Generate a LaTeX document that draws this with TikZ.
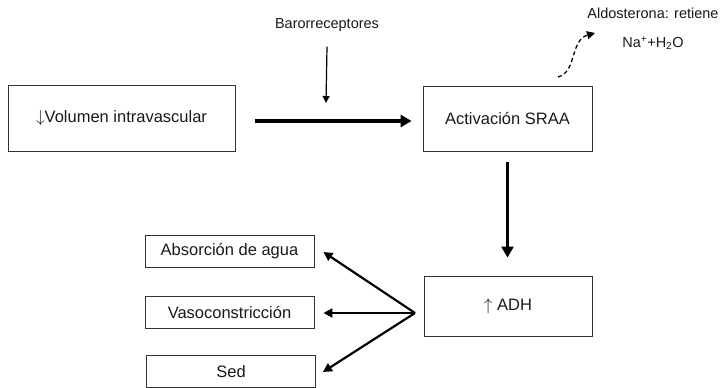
\documentclass[tikz,border=0pt]{standalone}
\usepackage{fontspec}
\setmainfont{Liberation Sans}
\usetikzlibrary{arrows.meta}

\begin{document}
\begin{tikzpicture}[x=1pt,y=1pt,
    box/.style={draw=black!80, line width=0.9pt, inner sep=0pt,
        font=\fontsize{16.5}{19}\selectfont, text=black!90},
    smallbox/.style={box, minimum width=169pt, minimum height=32pt},
    label/.style={font=\fontsize{14.5}{17}\selectfont, text=black!90, inner sep=0pt},
    thickarrow/.style={line width=3.6pt, -{Triangle[length=11pt,width=12pt]}},
    fanarrow/.style={line width=2.2pt, -{Triangle[length=9pt,width=9pt]}},
    thinarrow/.style={line width=1.2pt, -{Triangle[length=7pt,width=7pt]}}]

    % Fix the page to the proportions of the original image
    \useasboundingbox (0,0) rectangle (728,388);

    % Main boxes
    \node[box, minimum width=227pt, minimum height=66pt] (volumen) at (121.5,270) {\(\downarrow\)Volumen intravascular};
    \node[box, minimum width=169pt, minimum height=65pt] (sraa) at (507.5,269.5) {Activación SRAA};
    \node[box, minimum width=168pt, minimum height=60pt] (adh) at (508,82) {\(\uparrow\) ADH};

    % Effects of ADH
    \node[smallbox] (agua) at (229.5,137) {Absorción de agua};
    \node[smallbox] (vaso) at (229.5,75.5) {Vasoconstricción};
    \node[smallbox] (sed) at (231,16.5) {Sed};

    % Free texts
    \node[label] (baro) at (327,363) {Barorreceptores};
    \node[label] (aldo) at (653,375) {Aldosterona: retiene};
    \node[label] (na) at (653,345) {Na\textsuperscript{+}+H\textsubscript{2}O};

    % Main flow
    \draw[thickarrow] (volumen.east) ++(20pt,-3pt) -- ([xshift=-11pt,yshift=-2.5pt]sraa.west);
    \draw[thickarrow] ([yshift=-11pt]sraa.south) -- ([yshift=18pt]sraa.south |- adh.north);
    \draw[thinarrow] ([yshift=-15pt]baro.south) -- (326,285);

    % Dashed curve towards aldosterone
    \coordinate (aldostart) at (558,311);
    \coordinate (aldoend) at (595,355);
    \draw[line width=1.3pt, dash pattern=on 4pt off 3pt, -{Triangle[length=8pt,width=8pt]}]
        (aldostart) .. controls (577,316) and (570,348) .. (aldoend);

    % Fan of arrows from ADH
    \coordinate (fan) at (415,75);
    \draw[fanarrow] (fan) -- ([xshift=9pt,yshift=-1pt]agua.east);
    \draw[fanarrow] (fan) -- ([xshift=9pt,yshift=-0.5pt]vaso.east);
    \draw[fanarrow] (fan) -- ([xshift=7pt,yshift=-0.5pt]sed.east);

\end{tikzpicture}
\end{document}
